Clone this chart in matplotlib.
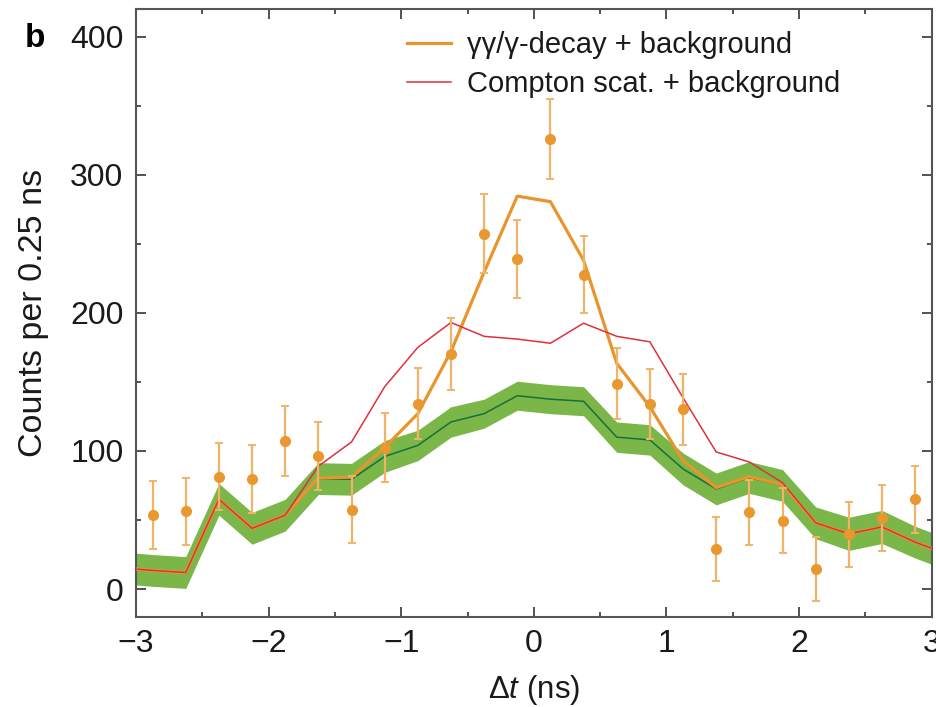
import matplotlib
matplotlib.use("Agg")
import matplotlib.pyplot as plt
from matplotlib.ticker import MultipleLocator

plt.rcParams['font.family'] = ['Liberation Sans', 'DejaVu Sans']
plt.rcParams['mathtext.fontset'] = 'custom'
plt.rcParams['mathtext.it'] = 'Liberation Sans:italic'
plt.rcParams['mathtext.rm'] = 'Liberation Sans'

# measured data (bin centres, counts, errors)
t_data = [-2.875, -2.625, -2.375, -2.125, -1.875, -1.625, -1.375, -1.125,
          -0.875, -0.625, -0.375, -0.125, 0.125, 0.375, 0.625, 0.875,
          1.125, 1.375, 1.625, 1.875, 2.125, 2.375, 2.625, 2.875]
counts = [53.5, 56.4, 81.5, 79.5, 107.2, 96.4, 57.6, 102.5,
          134.3, 170.4, 257.2, 239.1, 325.9, 227.5, 148.7, 134.3,
          130.2, 28.7, 55.5, 49.4, 14.5, 39.6, 51.6, 64.9]
count_err = [24.4, 24.3, 24.4, 24.7, 25.3, 24.9, 24.0, 24.9,
             25.9, 26.2, 28.7, 28.0, 28.9, 27.9, 25.7, 25.3,
             25.6, 23.2, 23.7, 23.5, 23.2, 23.5, 24.0, 24.0]

# model curves
t_model = [-3.125, -2.875, -2.625, -2.375, -2.125, -1.875, -1.625, -1.375,
           -1.125, -0.875, -0.625, -0.375, -0.125, 0.125, 0.375, 0.625,
           0.875, 1.125, 1.375, 1.625, 1.875, 2.125, 2.375, 2.625,
           2.875, 3.125]
background = [15.5, 13.5, 12.0, 65.0, 44.0, 53.5, 80.0, 79.5,
              96.0, 104.0, 121.0, 127.0, 140.0, 137.5, 136.0, 110.0,
              108.0, 87.0, 72.5, 80.8, 75.0, 48.0, 40.0, 45.0,
              34.0, 25.0]
background_err = [11.5, 11.5, 11.5, 11.5, 11.5, 11.5, 11.5, 11.5,
                  11.5, 11.0, 11.0, 10.5, 10.5, 10.5, 10.5, 11.0,
                  11.0, 11.5, 11.5, 11.5, 11.5, 11.5, 12.0, 12.0,
                  11.5, 11.5]
gg_model = [15.5, 13.5, 12.0, 65.0, 44.0, 53.5, 80.5, 81.0,
            102.5, 127.0, 172.0, 229.5, 284.5, 280.5, 238.0, 163.5,
            132.0, 93.0, 73.5, 81.5, 75.5, 48.0, 40.0, 45.0,
            34.0, 25.0]
compton_model = [15.5, 13.5, 12.0, 65.0, 44.0, 53.5, 89.0, 106.5,
                 146.5, 175.0, 193.0, 183.0, 181.0, 178.0, 192.5, 183.0,
                 179.0, 138.5, 99.3, 92.0, 77.0, 48.0, 40.0, 45.0,
                 34.0, 25.0]

labels = ['γγ/γ-decay + background', 'Compton scat. + background']

fig = plt.figure(figsize=(9.36, 7.07), dpi=100)
ax = fig.add_axes([0.1453, 0.1277, 0.8501, 0.8596])

lo = [b - e for b, e in zip(background, background_err)]
hi = [b + e for b, e in zip(background, background_err)]
ax.fill_between(t_model, lo, hi, color='#7ab648', lw=0, zorder=1)
ax.plot(t_model, background, color='#16703a', lw=1.1, zorder=2)
ax.plot(t_model, gg_model, color='#e8952e', lw=2.3, zorder=3, label=labels[0])
ax.plot(t_model, compton_model, color='#e0303c', lw=1.1, zorder=4, label=labels[1])
ax.errorbar(t_data, counts, yerr=count_err, fmt='none', ecolor='#f0b468',
            elinewidth=1.6, capsize=3, capthick=1.4, zorder=5)
ax.plot(t_data, counts, 'o', color='#e9982f', ms=8, mec='none', zorder=6)

ax.set_xlim(-3, 3)
ax.set_ylim(-20, 420)
ax.xaxis.set_major_locator(MultipleLocator(1))
ax.xaxis.set_minor_locator(MultipleLocator(0.5))
ax.yaxis.set_major_locator(MultipleLocator(100))
ax.yaxis.set_minor_locator(MultipleLocator(50))
ax.tick_params(which='both', direction='in', top=True, right=True,
               color='#444444', labelsize=23, labelcolor='#1a1a1a')
ax.tick_params(which='major', length=7, width=1.3, pad=9)
ax.tick_params(which='minor', length=3.5, width=1.3)
for s in ax.spines.values():
    s.set_color('#555555')
    s.set_linewidth(1.5)

ax.set_xlabel(r'$\Delta t$ (ns)', fontsize=22.5, color='#1a1a1a', labelpad=10)
ax.set_ylabel('Counts per 0.25 ns', fontsize=24.5, color='#1a1a1a', labelpad=15)

leg = ax.legend(loc='upper left', bbox_to_anchor=(0.341, 0.964), frameon=False,
                fontsize=21, handlelength=1.5, handletextpad=0.55,
                labelspacing=0.39, borderpad=0, borderaxespad=0)
for t in leg.get_texts():
    t.set_color('#1a1a1a')

fig.text(0.026, 0.968, 'b', fontsize=24, fontweight='bold', va='top', ha='left')

fig.savefig('out.png', dpi=100)
